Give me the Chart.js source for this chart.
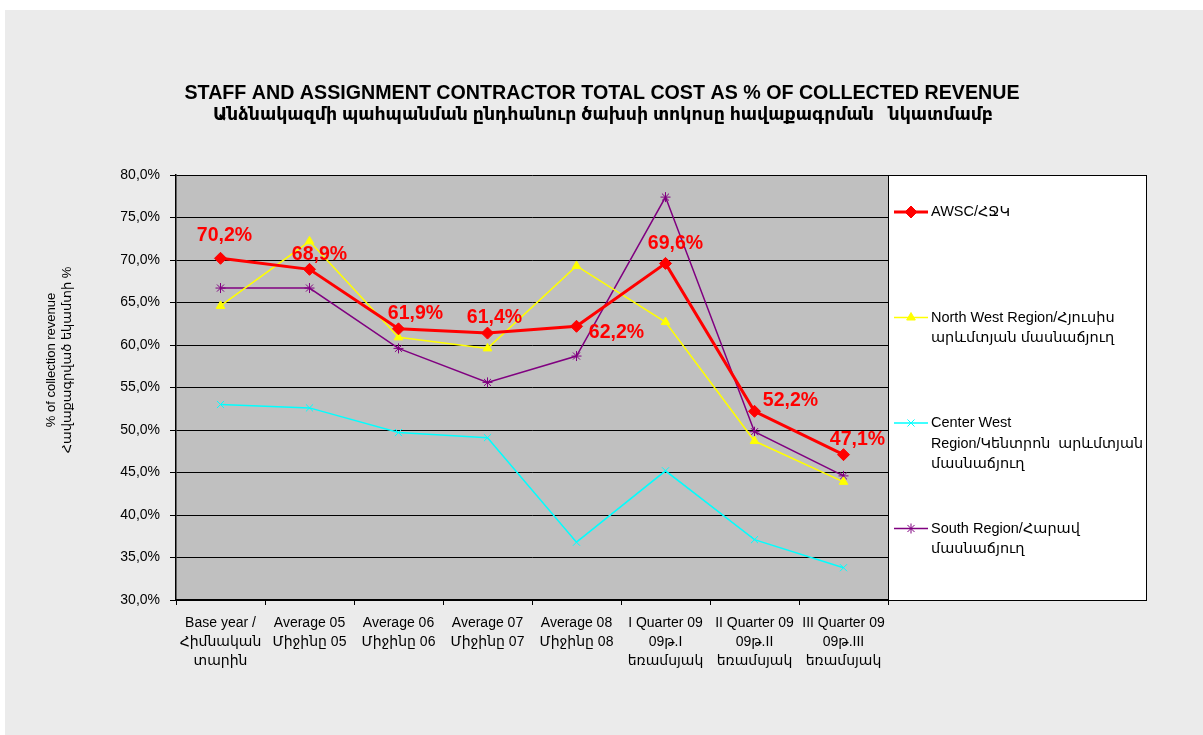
<!DOCTYPE html>
<html>
<head>
<meta charset="utf-8">
<script src="https://cdn.jsdelivr.net/npm/chart.js@4/dist/chart.umd.min.js"></script>
<style>
html,body{margin:0;padding:0;background:#fff;width:1203px;height:735px;overflow:hidden;}
#bg{position:absolute;left:5px;top:10px;width:1198px;height:725px;background:#ebebeb;}
#c{position:absolute;left:0;top:0;}
</style>
</head>
<body>
<div id="bg"></div>
<canvas id="c" width="1203" height="735"></canvas>
<script>
// ---- data ----
const categories = [
  ['Base year /', 'Հիմնական', 'տարին'],
  ['Average 05', 'Միջինը 05'],
  ['Average 06', 'Միջինը 06'],
  ['Average 07', 'Միջինը 07'],
  ['Average 08', 'Միջինը 08'],
  ['I Quarter 09', '09թ.I', 'եռամսյակ'],
  ['II Quarter 09', '09թ.II', 'եռամսյակ'],
  ['III Quarter 09', '09թ.III', 'եռամսյակ']
];
const awsc       = [70.2, 68.9, 61.9, 61.4, 62.2, 69.6, 52.2, 47.1];
const northWest  = [64.6, 72.2, 60.9, 59.6, 69.3, 62.7, 48.7, 43.9];
const centerWest = [53.0, 52.6, 49.7, 49.1, 36.8, 45.2, 37.1, 33.8];
const south      = [66.7, 66.7, 59.6, 55.6, 58.7, 77.4, 49.8, 44.6];
const seriesNames = [
  ['AWSC/ՀՋԿ'],
  ['North West Region/Հյուսիս', 'արևմտյան մասնաճյուղ'],
  ['Center West', 'Region/Կենտրոն  արևմտյան', 'մասնաճյուղ'],
  ['South Region/Հարավ', 'մասնաճյուղ']
];
const yMin = 30, yMax = 80, yStep = 5;
const titleLines = [
  'STAFF AND ASSIGNMENT CONTRACTOR TOTAL COST AS % OF COLLECTED REVENUE',
  'Անձնակազմի պահպանման ընդհանուր ծախսի տոկոսը հավաքագրման   նկատմամբ'
];
const yTitleLines = ['% of collection revenue', 'Հավաքագրված եկամտի %'];

// ---- styling ----
const FONT = "'Liberation Sans', Arial, 'DejaVu Sans', sans-serif";
const fmt = v => v.toFixed(1).replace('.', ',') + '%';
const labelOffsets = [[4,-23],[10,-15],[17,-15],[7,-15],[40,6],[10,-20],[36,-11],[14,-15]];

const decorPlugin = {
  id: 'decor',
  beforeDraw(chart) {
    const {ctx, chartArea: a} = chart;
    ctx.save();
    ctx.fillStyle = '#c0c0c0';
    ctx.fillRect(a.left, a.top, a.right - a.left, a.bottom - a.top);
    ctx.restore();
  },
  afterDatasetsDraw(chart) {
    const {ctx} = chart;
    const meta = chart.getDatasetMeta(0);
    ctx.save();
    ctx.fillStyle = '#ff0000';
    ctx.font = 'bold 19.5px ' + FONT;
    ctx.textAlign = 'center';
    ctx.textBaseline = 'middle';
    meta.data.forEach((pt, i) => {
      const o = labelOffsets[i];
      ctx.fillText(fmt(chart.data.datasets[0].data[i]), pt.x + o[0], pt.y + o[1]);
    });
    ctx.restore();
  },
  afterDraw(chart) {
    const {ctx, chartArea: a} = chart;
    ctx.save();
    // title
    ctx.fillStyle = '#000';
    ctx.textAlign = 'center';
    ctx.textBaseline = 'middle';
    ctx.font = 'bold 20px ' + FONT;
    ctx.fillText(titleLines[0], 602, 93, 835);
    ctx.font = 'bold 17.5px ' + FONT;
    ctx.fillText(titleLines[1], 603, 115, 780);
    // y title
    ctx.save();
    ctx.translate(51, 360);
    ctx.rotate(-Math.PI / 2);
    ctx.font = '13px ' + FONT;
    ctx.fillText(yTitleLines[0], 0, 0);
    ctx.fillText(yTitleLines[1], 0, 16);
    ctx.restore();
    // legend box
    const lx = a.right, ly = a.top, lw = 1147 - a.right, lh = a.bottom - a.top;
    ctx.fillStyle = '#fff';
    ctx.fillRect(lx, ly, lw, lh);
    ctx.strokeStyle = '#000';
    ctx.lineWidth = 1;
    ctx.strokeRect(lx + 0.5, ly + 0.5, lw - 1, lh);
    chart.data.datasets.forEach((ds, i) => {
      const y = ly + 37 + i * 105.5;
      ctx.strokeStyle = ds.borderColor;
      ctx.lineWidth = ds.borderWidth;
      ctx.beginPath();
      ctx.moveTo(lx + 6, y);
      ctx.lineTo(lx + 40, y);
      ctx.stroke();
      ctx.fillStyle = ds.pointBackgroundColor;
      ctx.strokeStyle = ds.pointBorderColor;
      ctx.lineWidth = 1;
      Chart.helpers.drawPoint(ctx, {pointStyle: ds.pointStyle, radius: ds.pointRadius, rotation: 0, borderWidth: 1}, lx + 23, y);
      ctx.fillStyle = '#000';
      ctx.textAlign = 'left';
      ctx.font = '14.5px ' + FONT;
      seriesNames[i].forEach((t, k) => ctx.fillText(t, lx + 43, y + k * 20.5, 1143 - (lx + 43)));
    });
    ctx.restore();
  }
};

const mk = (label, data, color, width, style, radius) => ({
  label, data,
  borderColor: color, backgroundColor: color,
  borderWidth: width,
  pointStyle: style, pointRadius: radius,
  pointBackgroundColor: color, pointBorderColor: color, pointBorderWidth: 1,
  pointHoverRadius: radius,
  tension: 0, fill: false
});

new Chart(document.getElementById('c'), {
  type: 'line',
  data: {
    labels: categories,
    datasets: [
      mk(seriesNames[0].join(' '), awsc, '#ff0000', 3, 'rectRot', 6),
      mk(seriesNames[1].join(' '), northWest, '#ffff00', 1.5, 'triangle', 5),
      mk(seriesNames[2].join(' '), centerWest, '#00ffff', 1.5, 'crossRot', 5),
      mk(seriesNames[3].join(' '), south, '#800080', 1.5, 'star', 5)
    ]
  },
  options: {
    responsive: false,
    animation: false,
    devicePixelRatio: 1,
    layout: {padding: {left: 0, right: 315, top: 175, bottom: 0}},
    plugins: {legend: {display: false}, title: {display: false}, tooltip: {enabled: false}},
    scales: {
      x: {
        offset: true,
        grid: {offset: true, drawOnChartArea: false, drawTicks: true, tickLength: 5, color: '#000', lineWidth: 1},
        border: {color: '#000', width: 1.5},
        ticks: {color: '#000', font: {family: FONT, size: 14, lineHeight: 1.35}, padding: 9, maxRotation: 0, autoSkip: false},
        afterFit(s) { s.height = 135; }
      },
      y: {
        min: yMin, max: yMax,
        grid: {color: '#000', lineWidth: 1, tickLength: 6},
        border: {color: '#000', width: 1.5},
        ticks: {stepSize: yStep, color: '#000', font: {family: FONT, size: 14}, padding: 10, callback: v => fmt(v)},
        afterFit(s) { s.width = 176; }
      }
    }
  },
  plugins: [decorPlugin]
});
</script>
</body>
</html>
